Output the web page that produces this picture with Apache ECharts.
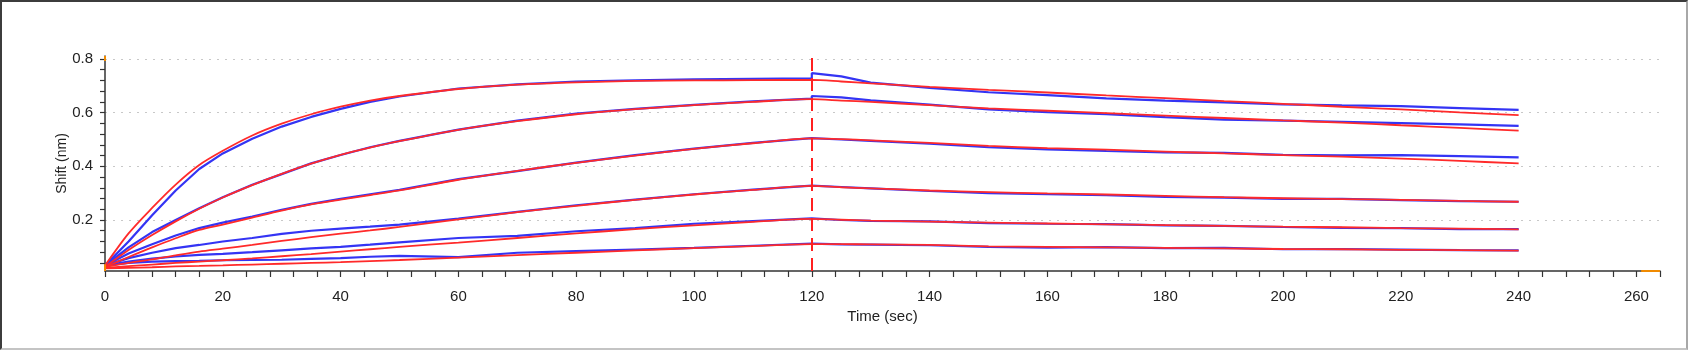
<!DOCTYPE html>
<html>
<head>
<meta charset="utf-8">
<script src="https://cdn.jsdelivr.net/npm/echarts@6.0.0/dist/echarts.min.js"></script>
<style>
  html, body { margin: 0; padding: 0; background: #fff; }
  #wrap { position: relative; width: 1688px; height: 350px; }
  #kinChart { width: 1688px; height: 350px; }
  #frame {
    position: absolute; left: 0; top: 0; width: 1688px; height: 350px;
    box-sizing: border-box; pointer-events: none;
    border-top: 2px solid #3c3c3c; border-left: 2px solid #3c3c3c;
    border-right: 2px solid #a8a8a8; border-bottom: 2px solid #c4c4c4;
  }
</style>
</head>
<body>
<div id="wrap">
  <div id="kinChart"></div>
  <div id="frame"></div>
</div>
<script>
  // time points (sec) - association 0..120, dissociation 120..240
  const assocTime = [0, 4, 8, 12, 16, 20, 25, 30, 35, 40, 45, 50, 60, 70, 80, 90, 100, 110, 120]
  const dissocTime = [120, 125, 130, 140, 150, 160, 170, 180, 190, 200, 210, 220, 230, 240]

  // measured (blue) and fitted (red) shift, nm - one per concentration, high to low
  const blue1A = [0.030, 0.120, 0.218, 0.310, 0.390, 0.448, 0.503, 0.548, 0.584, 0.614, 0.640, 0.660, 0.690, 0.705, 0.716, 0.720, 0.724, 0.726, 0.728]
  const blue1D = [0.747, 0.735, 0.712, 0.692, 0.676, 0.665, 0.653, 0.645, 0.638, 0.631, 0.627, 0.624, 0.617, 0.610]
  const red1A = [0.030, 0.150, 0.245, 0.332, 0.405, 0.458, 0.515, 0.559, 0.594, 0.622, 0.645, 0.662, 0.688, 0.704, 0.713, 0.718, 0.720, 0.721, 0.722]
  const red1D = [0.722, 0.716, 0.709, 0.696, 0.685, 0.675, 0.664, 0.654, 0.643, 0.633, 0.622, 0.612, 0.601, 0.591]

  const blue2A = [0.030, 0.098, 0.155, 0.200, 0.244, 0.285, 0.331, 0.371, 0.411, 0.442, 0.471, 0.495, 0.537, 0.570, 0.596, 0.614, 0.629, 0.642, 0.652]
  const blue2D = [0.662, 0.657, 0.646, 0.630, 0.612, 0.602, 0.594, 0.583, 0.574, 0.570, 0.566, 0.561, 0.556, 0.551]
  const red2A = [0.025, 0.088, 0.144, 0.195, 0.242, 0.284, 0.330, 0.372, 0.410, 0.443, 0.470, 0.494, 0.536, 0.568, 0.594, 0.613, 0.628, 0.640, 0.650]
  const red2D = [0.650, 0.645, 0.640, 0.628, 0.616, 0.607, 0.598, 0.589, 0.580, 0.571, 0.563, 0.553, 0.543, 0.533]

  const blue3A = [0.030, 0.075, 0.110, 0.142, 0.170, 0.190, 0.213, 0.238, 0.260, 0.279, 0.296, 0.312, 0.352, 0.382, 0.414, 0.442, 0.466, 0.487, 0.505]
  const blue3D = [0.502, 0.500, 0.495, 0.484, 0.471, 0.463, 0.457, 0.452, 0.450, 0.443, 0.441, 0.442, 0.438, 0.433]
  const red3A = [0.025, 0.062, 0.098, 0.132, 0.163, 0.183, 0.209, 0.235, 0.258, 0.276, 0.293, 0.310, 0.350, 0.383, 0.413, 0.440, 0.465, 0.486, 0.504]
  const red3D = [0.504, 0.501, 0.497, 0.487, 0.476, 0.468, 0.462, 0.455, 0.448, 0.442, 0.436, 0.429, 0.420, 0.411]

  const blue4A = [0.030, 0.058, 0.078, 0.095, 0.107, 0.120, 0.133, 0.148, 0.160, 0.168, 0.175, 0.183, 0.205, 0.230, 0.255, 0.276, 0.296, 0.313, 0.328]
  const blue4D = [0.330, 0.323, 0.318, 0.308, 0.300, 0.296, 0.293, 0.286, 0.283, 0.279, 0.279, 0.274, 0.270, 0.268]
  const red4A = [0.025, 0.040, 0.053, 0.068, 0.082, 0.093, 0.107, 0.122, 0.136, 0.149, 0.161, 0.174, 0.202, 0.229, 0.253, 0.275, 0.295, 0.312, 0.327]
  const red4D = [0.327, 0.322, 0.318, 0.310, 0.304, 0.299, 0.295, 0.290, 0.285, 0.281, 0.278, 0.275, 0.271, 0.268]

  const blue5A = [0.030, 0.045, 0.056, 0.064, 0.070, 0.074, 0.080, 0.087, 0.094, 0.100, 0.108, 0.117, 0.133, 0.141, 0.158, 0.170, 0.186, 0.196, 0.206]
  const blue5D = [0.205, 0.200, 0.197, 0.195, 0.188, 0.186, 0.185, 0.180, 0.178, 0.174, 0.171, 0.170, 0.166, 0.166]
  const red5A = [0.022, 0.028, 0.034, 0.040, 0.045, 0.050, 0.057, 0.065, 0.073, 0.082, 0.091, 0.100, 0.116, 0.133, 0.150, 0.166, 0.180, 0.193, 0.204]
  const red5D = [0.204, 0.201, 0.198, 0.194, 0.190, 0.187, 0.184, 0.181, 0.178, 0.175, 0.173, 0.170, 0.168, 0.165]

  const blue6A = [0.030, 0.040, 0.045, 0.047, 0.048, 0.050, 0.051, 0.052, 0.055, 0.058, 0.063, 0.066, 0.062, 0.078, 0.084, 0.090, 0.096, 0.104, 0.112]
  const blue6D = [0.110, 0.109, 0.108, 0.106, 0.100, 0.097, 0.099, 0.095, 0.096, 0.091, 0.092, 0.090, 0.088, 0.087]
  const red6A = [0.020, 0.022, 0.024, 0.027, 0.029, 0.031, 0.034, 0.037, 0.040, 0.043, 0.047, 0.051, 0.060, 0.069, 0.078, 0.087, 0.095, 0.103, 0.110]
  const red6D = [0.110, 0.110, 0.109, 0.107, 0.102, 0.100, 0.098, 0.096, 0.094, 0.092, 0.091, 0.089, 0.088, 0.086]

  // axis ticks / labels
  const xLabels = [0, 20, 40, 60, 80, 100, 120, 140, 160, 180, 200, 220, 240, 260]
  const xTicks = [0, 4, 8, 12, 16, 20, 24, 28, 32, 36, 40, 44, 48, 52, 56, 60, 64, 68, 72, 76, 80, 84, 88, 92, 96, 100,
    104, 108, 112, 116, 120, 124, 128, 132, 136, 140, 144, 148, 152, 156, 160, 164, 168, 172, 176, 180, 184, 188, 192,
    196, 200, 204, 208, 212, 216, 220, 224, 228, 232, 236, 240, 244, 248, 252, 256, 260, 264]
  const yLabels = [0.2, 0.4, 0.6, 0.8]
  const yTicks = [0.04, 0.08, 0.12, 0.16, 0.2, 0.24, 0.28, 0.32, 0.36, 0.4, 0.44, 0.48, 0.52, 0.56, 0.6, 0.64, 0.68, 0.72, 0.76, 0.8]
  const stepTime = 120

  const blueSets = [[blue1A, blue1D], [blue2A, blue2D], [blue3A, blue3D], [blue4A, blue4D], [blue5A, blue5D], [blue6A, blue6D]]
  const redSets = [[red1A, red1D], [red2A, red2D], [red3A, red3D], [red4A, red4D], [red5A, red5D], [red6A, red6D]]

  const toPairs = (aVals, dVals)=> {
    let pts = assocTime.map((t, i)=> [t, aVals[i]])
    return pts.concat(dissocTime.map((t, i)=> [t, dVals[i]]))
  }

  const font = { fontFamily: 'Liberation Sans, Arial, sans-serif', fontSize: 15, color: '#222' }
  const yMin = 0.01
  const yMax = 0.811

  let series = []
  blueSets.forEach((s, i)=> {
    series.push({
      name: 'measured ' + (i + 1),
      type: 'line',
      data: toPairs(s[0], s[1]),
      showSymbol: false,
      lineStyle: { color: '#3434f4', width: 2.2 },
      z: 2
    })
  })
  redSets.forEach((s, i)=> {
    series.push({
      name: 'fit ' + (i + 1),
      type: 'line',
      data: toPairs(s[0], s[1]),
      showSymbol: false,
      smooth: 0.3,
      lineStyle: { color: '#ff2a2a', width: 1.8 },
      z: 3
    })
  })
  // step marker (dashed) and the orange range handles
  const orange = { color: '#f08a00', width: 2, type: 'solid' }
  series.push({
    type: 'line',
    data: [],
    clip: false,
    markLine: {
      silent: true,
      symbol: 'none',
      label: { show: false },
      data: [
        [{ coord: [stepTime, yMin], lineStyle: { color: '#ff2020', width: 2, type: [13, 7] } }, { coord: [stepTime, yMax] }],
        [{ coord: [0, 0.792], lineStyle: orange }, { coord: [0, yMax] }],
        [{ coord: [0, yMin], lineStyle: orange }, { coord: [0, 0.035] }],
        [{ coord: [260.8, yMin], lineStyle: orange }, { coord: [264, yMin] }]
      ]
    },
    z: 4
  })

  let option = {
    animation: false,
    backgroundColor: '#fff',
    grid: { left: 105, right: 28, top: 56, bottom: 79 },
    xAxis: {
      type: 'value',
      min: 0,
      max: 264,
      name: 'Time (sec)',
      nameLocation: 'middle',
      nameGap: 29,
      nameTextStyle: font,
      axisLine: { show: true, onZero: false, lineStyle: { color: '#333', width: 1.5 } },
      axisTick: { show: true, length: 6, customValues: xTicks, lineStyle: { color: '#333', width: 1.2 } },
      axisLabel: Object.assign({ margin: 18, customValues: xLabels }, font),
      splitLine: { show: false }
    },
    yAxis: [
      {
        type: 'value',
        min: yMin,
        max: yMax,
        name: 'Shift (nm)',
        nameLocation: 'middle',
        nameGap: 36,
        nameMoveOverlap: false,
        nameTextStyle: Object.assign({}, font, { fontSize: 14 }),
        axisLine: { show: true, onZero: false, lineStyle: { color: '#333', width: 1.5 } },
        axisTick: { show: true, length: 5, customValues: yTicks, lineStyle: { color: '#333', width: 1.2 } },
        axisLabel: Object.assign({ margin: 12, customValues: yLabels, formatter: v=> v.toFixed(1) }, font),
        splitLine: { show: false }
      },
      {
        // only for the dotted grid lines
        type: 'value',
        min: yMin,
        max: yMax,
        position: 'left',
        axisLine: { show: false },
        axisTick: { show: false, customValues: yLabels },
        axisLabel: { show: false },
        splitLine: { show: true, lineStyle: { color: '#c8c8c8', width: 1.2, type: [2, 6] } }
      }
    ],
    series: series
  }

  let mychart = echarts.init(document.getElementById('kinChart'))
  mychart.setOption(option)
</script>
</body>
</html>
